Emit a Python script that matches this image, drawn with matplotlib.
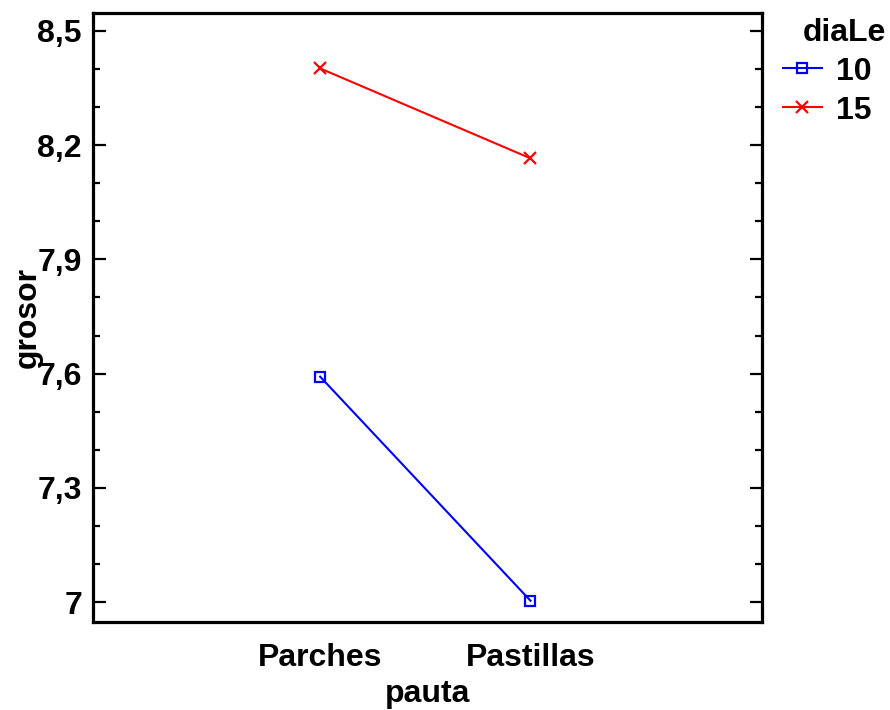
import matplotlib
matplotlib.use('Agg')
from matplotlib import pyplot as plt
from matplotlib.ticker import MultipleLocator, FixedLocator, FixedFormatter

# data
pauta = ['Parches', 'Pastillas']
diaLe = ['10', '15']
grosor_10 = [7.592, 7.004]
grosor_15 = [8.401, 8.165]

yticks = [7.0, 7.3, 7.6, 7.9, 8.2, 8.5]
ytick_labels = ['7', '7,3', '7,6', '7,9', '8,2', '8,5']

plt.rcParams['font.family'] = ['Liberation Sans', 'DejaVu Sans']
plt.rcParams['font.weight'] = 'bold'
fsize = 23

fig = plt.figure(figsize=(8.9, 7.1), dpi=100)
ax = fig.add_axes([0.1045, 0.1244, 0.7515, 0.8569])

x = list(range(len(pauta)))
ax.plot(x, grosor_10, color='blue', lw=1.5, marker='s', markersize=7,
        markerfacecolor='none', markeredgewidth=1.6, label=diaLe[0])
ax.plot(x, grosor_15, color='red', lw=1.5, marker='x', markersize=9,
        markeredgewidth=1.6, label=diaLe[1])

ax.set_xlim(-1.08, 2.1)
ax.set_ylim(6.949, 8.5457)

ax.set_xticks(x)
ax.set_xticklabels(pauta, fontsize=fsize, fontweight='bold')
ax.tick_params(axis='x', length=0, pad=15)

ax.yaxis.set_major_locator(FixedLocator(yticks))
ax.yaxis.set_major_formatter(FixedFormatter(ytick_labels))
ax.yaxis.set_minor_locator(MultipleLocator(0.1))
ax.tick_params(axis='y', which='both', direction='in', left=True, right=True, width=1.6)
ax.tick_params(axis='y', which='major', length=9, pad=8, labelsize=fsize)
ax.tick_params(axis='y', which='minor', length=5)

for s in ax.spines.values():
    s.set_linewidth(2.3)

ax.set_xlabel('pauta', fontsize=fsize, fontweight='bold', labelpad=5)
ax.set_ylabel('grosor', fontsize=fsize, fontweight='bold')
ax.yaxis.set_label_coords(-0.0745, 0.5)

# legend title as separate text, entries below it
fig.text(803 / 890, 1 - 33 / 710, 'diaLe', fontsize=fsize, fontweight='bold',
         ha='left', va='center')
leg = ax.legend(loc='center left', bbox_to_anchor=(1.031, 0.872),
                frameon=False, fontsize=fsize, handlelength=1.22, handletextpad=0.44,
                borderaxespad=0, borderpad=0, labelspacing=0.28)
for t in leg.get_texts():
    t.set_fontweight('bold')

fig.savefig('out.png', dpi=100)
plt.close(fig)
